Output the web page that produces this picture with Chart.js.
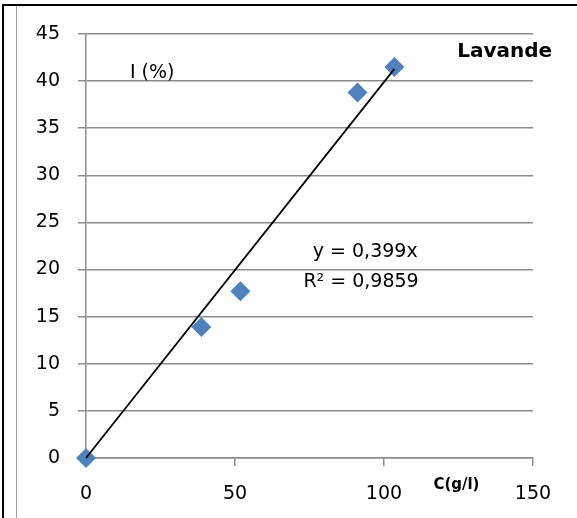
<!DOCTYPE html>
<html>
<head>
<meta charset="utf-8">
<script src="https://cdn.jsdelivr.net/npm/chart.js@4/dist/chart.umd.min.js"></script>
<style>
  body { margin: 0; background: #fff; }
  #wrap { position: relative; width: 577px; height: 518px; }
  #frameTop { position: absolute; left: 2px; top: 4px; width: 575px; height: 2px; background: #000; }
  #frameLeft { position: absolute; left: 2px; top: 4px; width: 2px; height: 514px; background: #000; }
  #frameInner { position: absolute; left: 16px; top: 6px; width: 1px; height: 512px; background: #a0a0a0; }
</style>
</head>
<body>
<div id="wrap">
  <canvas id="lavandeChart" width="577" height="518"></canvas>
  <div id="frameTop"></div>
  <div id="frameLeft"></div>
  <div id="frameInner"></div>
</div>
<script>
// Lavande: inhibition I (%) against concentration C (g/l)
var concentrations = [0, 38.7, 51.8, 91.1, 103.5];
var inhibition = [0, 13.9, 17.7, 38.8, 41.5];
var xTicks = [0, 50, 100, 150];
var yTicks = [0, 5, 10, 15, 20, 25, 30, 35, 40, 45];

// linear fit through origin
var slope = 0.399;
var r2Text = 'R² = 0,9859';
var eqText = 'y = 0,399x';

var points = concentrations.map(function (c, i) { return { x: c, y: inhibition[i] }; });
var xEnd = concentrations[concentrations.length - 1];
var trend = [{ x: 0, y: 0 }, { x: xEnd, y: slope * xEnd }];

var gridGray = '#8c8c8c';
var font = 'DejaVu Sans';

var chartText = {
    id: 'chartText',
    afterDraw: function (chart) {
        var ctx = chart.ctx;
        var xs = chart.scales.x, ys = chart.scales.y;
        ctx.save();
        ctx.fillStyle = '#000';
        ctx.textAlign = 'center';
        ctx.textBaseline = 'middle';
        ctx.font = '19px "' + font + '"';
        ctx.fillText('I (%)', xs.getPixelForValue(22.2), ys.getPixelForValue(40.9));
        ctx.fillText(eqText, xs.getPixelForValue(93.7), ys.getPixelForValue(21.9));
        ctx.fillText(r2Text, xs.getPixelForValue(92.3), ys.getPixelForValue(18.7));
        ctx.font = 'bold 20px "' + font + '"';
        ctx.fillText('Lavande', xs.getPixelForValue(140.5), ys.getPixelForValue(43.1));
        ctx.font = 'bold 15px "' + font + '"';
        ctx.fillText('C(g/l)', xs.getPixelForValue(124.3), ys.getPixelForValue(-2.9));
        ctx.restore();
    }
};

var ctx = document.getElementById('lavandeChart').getContext('2d');
var lavandeChart = new Chart(ctx, {
    type: 'scatter',
    data: {
        datasets: [{
            type: 'line',
            label: 'Tendance',
            data: trend,
            borderColor: '#000',
            borderWidth: 1.8,
            pointRadius: 0,
            fill: false,
            clip: false,
            order: 0
        }, {
            label: 'Lavande',
            data: points,
            pointStyle: 'rectRot',
            pointRadius: 10,
            pointBackgroundColor: '#4f81bd',
            pointBorderColor: '#4f81bd',
            pointBorderWidth: 0,
            clip: false,
            order: 1
        }]
    },
    options: {
        responsive: false,
        animation: false,
        layout: { padding: { top: 34, right: 44, left: 0, bottom: 0 } },
        plugins: {
            legend: { display: false },
            tooltip: { enabled: false }
        },
        scales: {
            x: {
                type: 'linear',
                min: 0,
                max: 150,
                afterBuildTicks: function (axis) {
                    axis.ticks = xTicks.map(function (v) { return { value: v }; });
                },
                afterFit: function (axis) { axis.height = 60; },
                grid: { drawOnChartArea: false, color: gridGray, lineWidth: 1.5, tickLength: 8 },
                border: { color: gridGray, width: 1.5 },
                ticks: { color: '#000', padding: 17, font: { family: font, size: 19 } }
            },
            y: {
                min: 0,
                max: 45,
                afterBuildTicks: function (axis) {
                    axis.ticks = yTicks.map(function (v) { return { value: v }; });
                },
                afterFit: function (axis) { axis.width = 86; },
                grid: { color: gridGray, lineWidth: 1.5, tickLength: 8 },
                border: { color: gridGray, width: 1.5 },
                ticks: { color: '#000', padding: 18, font: { family: font, size: 19 } }
            }
        }
    },
    plugins: [chartText]
});
</script>
</body>
</html>
